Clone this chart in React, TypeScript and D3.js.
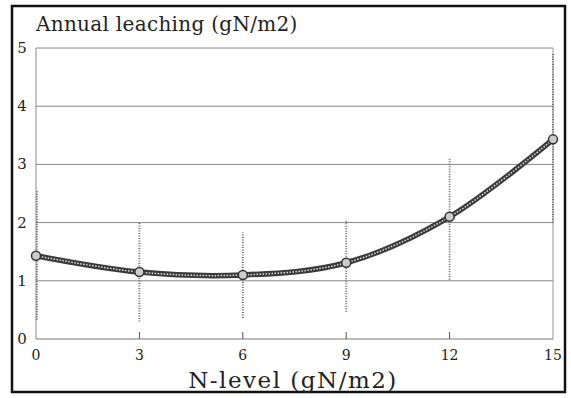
import React, { useRef, useEffect } from 'react';
import * as d3 from 'd3';

// N-level (gN/m2) and annual leaching
const nLevels = [0, 3, 6, 9, 12, 15];
const leaching = [1.43, 1.15, 1.1, 1.31, 2.1, 3.43];
// error bar extents (low / high)
const errLow = [0.33, 0.3, 0.36, 0.47, 1.02, 2.0];
const errHigh = [2.56, 2.0, 1.83, 2.05, 3.12, 4.9];
const xTicks = [0, 3, 6, 9, 12, 15];
const yTicks = [0, 1, 2, 3, 4, 5];

const App: React.FC = () => {
  const svgRef = useRef<SVGSVGElement>(null);

  const width = 571;
  const height = 398;
  const marginTop = 48;
  const marginRight = 18;
  const marginBottom = 59;
  const marginLeft = 36;

  const x = d3.scaleLinear().domain([0, 15]).range([marginLeft, width - marginRight]);
  const y = d3.scaleLinear().domain([0, 5]).range([height - marginBottom, marginTop]);

  useEffect(() => {
    if (!svgRef.current) return;
    const svg = d3.select(svgRef.current);
    svg.selectAll('*').remove();

    const serif = '"DejaVu Serif", serif';

    // outer frame
    svg.append('rect')
      .attr('x', 12).attr('y', 6)
      .attr('width', 553).attr('height', 386)
      .attr('fill', 'white')
      .attr('stroke', '#111')
      .attr('stroke-width', 2.5);

    // horizontal grid
    svg.append('g')
      .selectAll('line')
      .data(yTicks.slice(1))
      .join('line')
      .attr('x1', x(0)).attr('x2', x(15))
      .attr('y1', d => y(d)).attr('y2', d => y(d))
      .attr('stroke', '#888')
      .attr('stroke-width', 1);

    // plot borders
    svg.append('line')
      .attr('x1', x(0)).attr('x2', x(0))
      .attr('y1', y(0)).attr('y2', y(5))
      .attr('stroke', '#888');
    svg.append('line')
      .attr('x1', x(15)).attr('x2', x(15))
      .attr('y1', y(0)).attr('y2', y(5))
      .attr('stroke', '#999');
    svg.append('line')
      .attr('x1', x(0)).attr('x2', x(15))
      .attr('y1', y(0)).attr('y2', y(0))
      .attr('stroke', '#777');

    // x tick marks
    svg.append('g')
      .selectAll('line')
      .data(xTicks.slice(1, -1))
      .join('line')
      .attr('x1', d => x(d)).attr('x2', d => x(d))
      .attr('y1', y(0)).attr('y2', y(0) - 7)
      .attr('stroke', '#555');

    // error bars
    svg.append('g')
      .selectAll('line')
      .data(nLevels)
      .join('line')
      .attr('x1', d => x(d) + (d === 0 ? 1 : 0)).attr('x2', d => x(d) + (d === 0 ? 1 : 0))
      .attr('y1', (_, i) => y(errLow[i]))
      .attr('y2', (_, i) => y(errHigh[i]))
      .attr('stroke', '#666')
      .attr('stroke-width', 1.8)
      .attr('stroke-dasharray', '1,1.5');

    const pts: [number, number][] = nLevels.map((d, i) => [x(d), y(leaching[i])]);
    const line = d3.line().curve(d3.curveCatmullRom.alpha(0.5));

    svg.append('path')
      .attr('d', line(pts))
      .attr('fill', 'none')
      .attr('stroke', '#3a3a3a')
      .attr('stroke-width', 5.5);
    svg.append('path')
      .attr('d', line(pts))
      .attr('fill', 'none')
      .attr('stroke', '#ddd')
      .attr('stroke-width', 1.5)
      .attr('stroke-dasharray', '1.5,1.5');

    // markers
    svg.append('g')
      .selectAll('circle')
      .data(pts)
      .join('circle')
      .attr('cx', d => d[0]).attr('cy', d => d[1])
      .attr('r', 4.5)
      .attr('fill', '#ccc')
      .attr('stroke', '#333')
      .attr('stroke-width', 1.5);

    // y tick labels
    svg.append('g')
      .selectAll('text')
      .data(yTicks)
      .join('text')
      .attr('x', 22).attr('y', d => y(d) + 5)
      .attr('text-anchor', 'middle')
      .attr('font-family', serif)
      .attr('font-size', 15)
      .attr('fill', '#222')
      .text(d => d);

    // x tick labels
    svg.append('g')
      .selectAll('text')
      .data(xTicks)
      .join('text')
      .attr('x', d => x(d)).attr('y', 360)
      .attr('text-anchor', 'middle')
      .attr('font-family', serif)
      .attr('font-size', 14)
      .attr('fill', '#222')
      .text(d => d);

    // title
    svg.append('text')
      .attr('x', 36).attr('y', 31)
      .attr('font-family', serif)
      .attr('font-size', 20)
      .attr('letter-spacing', 0.3)
      .attr('fill', '#222')
      .text('Annual leaching (gN/m2)');

    // x axis label
    svg.append('text')
      .attr('x', 293).attr('y', 388)
      .attr('text-anchor', 'middle')
      .attr('font-family', serif)
      .attr('font-size', 23)
      .attr('letter-spacing', 1.5)
      .attr('fill', '#222')
      .text('N-level (gN/m2)');
  }, []);

  return (
    <svg ref={svgRef} width={width} height={height} style={{ position: 'absolute', left: 0, top: 0 }} />
  );
};

export default App;
